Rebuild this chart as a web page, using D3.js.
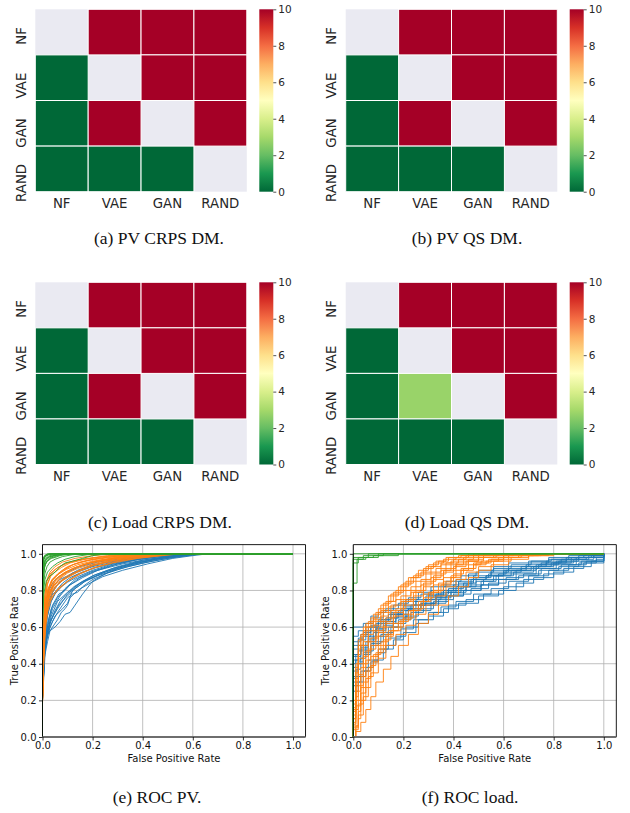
<!DOCTYPE html>
<html>
<head>
<meta charset="utf-8">
<script src="https://cdn.jsdelivr.net/npm/d3@7"></script>
<style>
  body { margin: 0; background: #fff; }
  svg { display: block; }
</style>
</head>
<body>
<div id="graph"></div>
<script>

// heatmap categories and values (diagonal = null, not tested)
var cats = ["NF", "VAE", "GAN", "RAND"];
var pvCrps   = [[null, 10, 10, 10], [0, null, 10, 10], [0, 10, null, 10], [0, 0, 0, null]];
var pvQs     = [[null, 10, 10, 10], [0, null, 10, 10], [0, 10, null, 10], [0, 0, 0, null]];
var loadCrps = [[null, 10, 10, 10], [0, null, 10, 10], [0, 10, null, 10], [0, 0, 0, null]];
var loadQs   = [[null, 10, 10, 10], [0, null, 10, 10], [0, 2.8, null, 10], [0, 0, 0, null]];
var cbTicks = [0, 2, 4, 6, 8, 10];
var rocTicks = [0, 0.2, 0.4, 0.6, 0.8, 1.0];

// ROC PV curves [fpr, tpr]
var pvBlue = [
  [[0,0],[0,0.2],[0.005,0.42],[0.015,0.55],[0.03,0.63],[0.06,0.7],[0.1,0.78],[0.15,0.84],[0.2,0.88],[0.3,0.93],[0.4,0.965],[0.5,0.985],[0.6,0.997],[0.64,1],[1,1]],
  [[0,0],[0,0.25],[0.008,0.5],[0.02,0.6],[0.04,0.7],[0.07,0.77],[0.1,0.82],[0.15,0.87],[0.2,0.9],[0.3,0.945],[0.4,0.975],[0.5,0.99],[0.58,1],[1,1]],
  [[0,0],[0,0.2],[0.01,0.45],[0.02,0.52],[0.03,0.58],[0.05,0.6],[0.07,0.63],[0.09,0.67],[0.11,0.68],[0.13,0.72],[0.16,0.78],[0.2,0.85],[0.25,0.89],[0.3,0.92],[0.4,0.955],[0.5,0.98],[0.6,0.995],[0.65,1],[1,1]],
  [[0,0],[0,0.3],[0.006,0.55],[0.015,0.68],[0.03,0.76],[0.05,0.82],[0.08,0.86],[0.12,0.89],[0.2,0.93],[0.3,0.96],[0.4,0.985],[0.5,1],[1,1]],
  [[0,0],[0,0.22],[0.008,0.47],[0.02,0.58],[0.035,0.66],[0.06,0.74],[0.1,0.79],[0.14,0.83],[0.18,0.86],[0.25,0.9],[0.35,0.94],[0.45,0.97],[0.55,0.99],[0.62,1],[1,1]],
  [[0,0],[0,0.28],[0.01,0.6],[0.02,0.7],[0.04,0.78],[0.06,0.8],[0.09,0.84],[0.13,0.88],[0.2,0.92],[0.28,0.95],[0.38,0.975],[0.48,0.99],[0.55,1],[1,1]],
  [[0,0],[0,0.2],[0.007,0.44],[0.018,0.54],[0.03,0.6],[0.05,0.66],[0.08,0.7],[0.1,0.73],[0.12,0.8],[0.17,0.85],[0.22,0.88],[0.3,0.915],[0.4,0.95],[0.5,0.975],[0.6,0.993],[0.63,1],[1,1]],
  [[0,0],[0,0.35],[0.005,0.6],[0.012,0.72],[0.025,0.8],[0.045,0.85],[0.07,0.88],[0.1,0.9],[0.15,0.93],[0.22,0.955],[0.3,0.97],[0.4,0.99],[0.47,1],[1,1]],
  [[0,0],[0,0.24],[0.01,0.52],[0.025,0.64],[0.04,0.72],[0.065,0.78],[0.09,0.8],[0.11,0.83],[0.16,0.87],[0.22,0.91],[0.32,0.945],[0.42,0.97],[0.52,0.99],[0.6,1],[1,1]],
  [[0,0],[0,0.26],[0.008,0.5],[0.02,0.62],[0.035,0.7],[0.06,0.76],[0.09,0.81],[0.13,0.86],[0.19,0.9],[0.27,0.935],[0.37,0.965],[0.47,0.985],[0.57,0.997],[0.61,1],[1,1]],
  [[0,0],[0,0.2],[0.006,0.4],[0.012,0.5],[0.02,0.56],[0.03,0.62],[0.045,0.67],[0.065,0.72],[0.085,0.75],[0.1,0.77],[0.13,0.81],[0.17,0.85],[0.23,0.89],[0.3,0.925],[0.38,0.955],[0.48,0.98],[0.58,0.995],[0.62,1],[1,1]],
  [[0,0],[0,0.32],[0.007,0.58],[0.015,0.66],[0.025,0.73],[0.04,0.79],[0.06,0.83],[0.085,0.86],[0.12,0.895],[0.17,0.92],[0.24,0.95],[0.33,0.97],[0.43,0.99],[0.52,1],[1,1]],
  [[0,0],[0,0.22],[0.01,0.48],[0.02,0.56],[0.04,0.6],[0.06,0.64],[0.075,0.68],[0.09,0.7],[0.1,0.72],[0.11,0.76],[0.14,0.8],[0.19,0.84],[0.24,0.875],[0.32,0.91],[0.42,0.945],[0.52,0.975],[0.6,0.99],[0.66,1],[1,1]],
  [[0,0],[0,0.27],[0.008,0.52],[0.018,0.65],[0.03,0.73],[0.05,0.78],[0.075,0.82],[0.1,0.845],[0.14,0.875],[0.2,0.91],[0.27,0.94],[0.36,0.965],[0.46,0.985],[0.55,0.997],[0.58,1],[1,1]],
  [[0,0],[0,0.23],[0.009,0.46],[0.02,0.57],[0.035,0.64],[0.05,0.69],[0.07,0.74],[0.095,0.78],[0.125,0.82],[0.16,0.85],[0.21,0.885],[0.28,0.92],[0.37,0.95],[0.47,0.975],[0.57,0.993],[0.63,1],[1,1]],
  [[0,0],[0,0.3],[0.006,0.56],[0.014,0.7],[0.028,0.78],[0.045,0.83],[0.07,0.86],[0.1,0.88],[0.14,0.91],[0.2,0.94],[0.28,0.96],[0.37,0.98],[0.45,0.995],[0.5,1],[1,1]],
  [[0,0],[0,0.21],[0.008,0.44],[0.016,0.53],[0.028,0.59],[0.04,0.63],[0.06,0.68],[0.08,0.72],[0.1,0.76],[0.12,0.78],[0.14,0.79],[0.16,0.82],[0.2,0.86],[0.26,0.895],[0.34,0.93],[0.44,0.96],[0.54,0.985],[0.62,0.997],[0.65,1],[1,1]],
  [[0,0],[0,0.25],[0.01,0.55],[0.02,0.66],[0.035,0.74],[0.055,0.8],[0.08,0.84],[0.11,0.87],[0.15,0.895],[0.21,0.925],[0.29,0.95],[0.39,0.975],[0.49,0.99],[0.56,1],[1,1]]
];
var pvOrange = [
  [[0,0],[0,0.18],[0.003,0.4],[0.008,0.62],[0.015,0.75],[0.03,0.82],[0.05,0.86],[0.08,0.89],[0.12,0.92],[0.2,0.955],[0.3,0.975],[0.4,0.99],[0.5,1],[1,1]],
  [[0,0],[0,0.2],[0.004,0.5],[0.01,0.7],[0.02,0.8],[0.04,0.86],[0.07,0.9],[0.1,0.93],[0.15,0.955],[0.22,0.975],[0.32,0.99],[0.42,1],[1,1]],
  [[0,0],[0,0.2],[0.005,0.45],[0.01,0.6],[0.02,0.7],[0.035,0.76],[0.06,0.8],[0.1,0.85],[0.15,0.89],[0.2,0.92],[0.28,0.95],[0.38,0.975],[0.48,0.99],[0.55,1],[1,1]],
  [[0,0],[0,0.25],[0.004,0.55],[0.01,0.74],[0.02,0.84],[0.035,0.89],[0.06,0.925],[0.1,0.95],[0.16,0.97],[0.25,0.985],[0.35,0.996],[0.4,1],[1,1]],
  [[0,0],[0,0.19],[0.005,0.48],[0.012,0.66],[0.025,0.78],[0.04,0.83],[0.06,0.87],[0.09,0.9],[0.14,0.93],[0.2,0.955],[0.3,0.98],[0.4,0.995],[0.46,1],[1,1]],
  [[0,0],[0,0.22],[0.006,0.52],[0.015,0.72],[0.03,0.8],[0.045,0.83],[0.07,0.85],[0.1,0.88],[0.13,0.9],[0.18,0.93],[0.26,0.96],[0.36,0.98],[0.46,0.995],[0.52,1],[1,1]],
  [[0,0],[0,0.3],[0.004,0.6],[0.009,0.78],[0.018,0.86],[0.03,0.9],[0.05,0.93],[0.08,0.955],[0.13,0.975],[0.2,0.99],[0.3,1],[1,1]],
  [[0,0],[0,0.2],[0.005,0.46],[0.012,0.64],[0.022,0.74],[0.04,0.81],[0.065,0.86],[0.095,0.9],[0.13,0.925],[0.19,0.95],[0.27,0.97],[0.37,0.987],[0.47,0.997],[0.5,1],[1,1]],
  [[0,0],[0,0.24],[0.004,0.5],[0.01,0.68],[0.02,0.78],[0.035,0.85],[0.055,0.88],[0.085,0.91],[0.12,0.94],[0.18,0.965],[0.26,0.982],[0.36,0.995],[0.44,1],[1,1]],
  [[0,0],[0,0.21],[0.006,0.5],[0.014,0.69],[0.028,0.79],[0.05,0.85],[0.075,0.88],[0.11,0.91],[0.16,0.94],[0.23,0.965],[0.33,0.985],[0.43,0.997],[0.48,1],[1,1]],
  [[0,0],[0,0.2],[0.004,0.44],[0.009,0.6],[0.018,0.72],[0.03,0.78],[0.05,0.82],[0.075,0.85],[0.1,0.87],[0.14,0.9],[0.2,0.935],[0.28,0.96],[0.38,0.98],[0.48,0.995],[0.53,1],[1,1]],
  [[0,0],[0,0.27],[0.004,0.58],[0.009,0.76],[0.017,0.85],[0.03,0.89],[0.05,0.915],[0.08,0.94],[0.12,0.96],[0.18,0.975],[0.26,0.99],[0.34,1],[1,1]],
  [[0,0],[0,0.19],[0.005,0.42],[0.011,0.58],[0.02,0.68],[0.032,0.74],[0.05,0.79],[0.07,0.82],[0.09,0.84],[0.12,0.87],[0.16,0.9],[0.22,0.93],[0.3,0.96],[0.4,0.98],[0.5,0.995],[0.54,1],[1,1]],
  [[0,0],[0,0.23],[0.005,0.53],[0.011,0.71],[0.022,0.81],[0.038,0.86],[0.06,0.89],[0.09,0.92],[0.13,0.945],[0.19,0.965],[0.27,0.98],[0.37,0.993],[0.43,1],[1,1]],
  [[0,0],[0,0.2],[0.006,0.47],[0.013,0.63],[0.024,0.73],[0.04,0.79],[0.06,0.83],[0.085,0.86],[0.11,0.88],[0.15,0.91],[0.21,0.94],[0.29,0.965],[0.39,0.985],[0.49,0.997],[0.52,1],[1,1]],
  [[0,0],[0,0.28],[0.004,0.56],[0.01,0.73],[0.019,0.83],[0.032,0.875],[0.05,0.9],[0.075,0.925],[0.11,0.95],[0.17,0.97],[0.24,0.985],[0.33,0.996],[0.38,1],[1,1]],
  [[0,0],[0,0.21],[0.005,0.49],[0.012,0.67],[0.025,0.77],[0.045,0.83],[0.07,0.865],[0.1,0.895],[0.14,0.92],[0.2,0.945],[0.28,0.97],[0.38,0.988],[0.47,1],[1,1]],
  [[0,0],[0,0.24],[0.005,0.52],[0.012,0.7],[0.023,0.8],[0.04,0.855],[0.065,0.89],[0.095,0.915],[0.14,0.94],[0.2,0.96],[0.29,0.98],[0.39,0.994],[0.45,1],[1,1]]
];
var pvGreen = [
  [[0,0],[0,0.6],[0.002,0.85],[0.005,0.93],[0.01,0.96],[0.02,0.98],[0.04,0.99],[0.08,0.997],[0.12,1],[1,1]],
  [[0,0],[0,0.7],[0.003,0.9],[0.008,0.95],[0.015,0.97],[0.03,0.985],[0.06,0.995],[0.1,1],[1,1]],
  [[0,0],[0,0.65],[0.004,0.8],[0.01,0.86],[0.02,0.9],[0.04,0.93],[0.06,0.95],[0.09,0.97],[0.13,0.985],[0.18,0.995],[0.22,1],[1,1]],
  [[0,0],[0,0.8],[0.002,0.93],[0.006,0.97],[0.012,0.985],[0.025,0.995],[0.05,1],[1,1]],
  [[0,0],[0,0.75],[0.003,0.88],[0.01,0.94],[0.02,0.96],[0.035,0.975],[0.05,0.98],[0.07,0.99],[0.1,0.997],[0.15,1],[1,1]],
  [[0,0],[0,0.85],[0.002,0.95],[0.005,0.98],[0.012,0.99],[0.03,1],[1,1]],
  [[0,0],[0,0.6],[0.005,0.78],[0.015,0.85],[0.03,0.88],[0.05,0.9],[0.07,0.93],[0.09,0.95],[0.12,0.96],[0.16,0.975],[0.2,0.99],[0.25,1],[1,1]],
  [[0,0],[0,0.9],[0.003,0.97],[0.008,0.99],[0.02,1],[1,1]],
  [[0,0],[0,0.7],[0.003,0.86],[0.007,0.92],[0.015,0.955],[0.03,0.975],[0.06,0.99],[0.09,1],[1,1]],
  [[0,0],[0,0.78],[0.002,0.91],[0.006,0.955],[0.013,0.975],[0.025,0.988],[0.045,0.996],[0.07,1],[1,1]],
  [[0,0],[0,0.66],[0.004,0.82],[0.009,0.89],[0.018,0.93],[0.03,0.955],[0.05,0.97],[0.08,0.985],[0.12,0.995],[0.16,1],[1,1]],
  [[0,0],[0,0.83],[0.002,0.94],[0.005,0.97],[0.01,0.985],[0.02,0.995],[0.04,1],[1,1]],
  [[0,0],[0,0.72],[0.003,0.87],[0.008,0.93],[0.016,0.96],[0.03,0.98],[0.05,0.99],[0.08,0.997],[0.11,1],[1,1]],
  [[0,0],[0,0.88],[0.002,0.96],[0.006,0.985],[0.015,0.995],[0.025,1],[1,1]]
];

// ROC load curves [fpr, tpr], drawn as steps
var loadBlue = [
  [[0,0],[0,0.6],[0.04,0.62],[0.07,0.66],[0.1,0.68],[0.13,0.7],[0.18,0.73],[0.22,0.76],[0.27,0.78],[0.31,0.8],[0.36,0.83],[0.41,0.86],[0.46,0.89],[0.5,0.91],[0.56,0.93],[0.62,0.95],[0.7,0.96],[0.78,0.98],[0.86,0.99],[0.93,1],[1,1]],
  [[0,0],[0,0.45],[0.02,0.5],[0.04,0.55],[0.07,0.6],[0.11,0.64],[0.15,0.67],[0.2,0.71],[0.24,0.74],[0.29,0.77],[0.34,0.8],[0.4,0.83],[0.46,0.86],[0.53,0.88],[0.6,0.9],[0.67,0.92],[0.74,0.94],[0.82,0.96],[0.9,0.98],[1,1]],
  [[0,0],[0,0.28],[0.02,0.33],[0.05,0.38],[0.08,0.42],[0.12,0.48],[0.16,0.53],[0.2,0.57],[0.25,0.62],[0.3,0.66],[0.36,0.7],[0.42,0.73],[0.5,0.77],[0.58,0.8],[0.65,0.84],[0.72,0.87],[0.8,0.9],[0.88,0.93],[0.95,0.96],[1,1]],
  [[0,0],[0,0.38],[0.01,0.42],[0.03,0.48],[0.06,0.53],[0.09,0.58],[0.13,0.62],[0.17,0.66],[0.22,0.7],[0.27,0.73],[0.33,0.76],[0.39,0.79],[0.45,0.82],[0.51,0.85],[0.57,0.88],[0.64,0.9],[0.72,0.93],[0.8,0.95],[0.88,0.97],[0.96,0.99],[1,1]],
  [[0,0],[0,0.52],[0.03,0.56],[0.06,0.6],[0.1,0.63],[0.14,0.67],[0.19,0.7],[0.24,0.72],[0.28,0.75],[0.33,0.78],[0.38,0.81],[0.44,0.84],[0.49,0.87],[0.55,0.9],[0.62,0.92],[0.69,0.94],[0.77,0.96],[0.85,0.98],[0.92,0.99],[1,1]],
  [[0,0],[0,0.33],[0.02,0.4],[0.04,0.45],[0.07,0.5],[0.1,0.55],[0.14,0.6],[0.18,0.64],[0.23,0.68],[0.28,0.72],[0.34,0.75],[0.4,0.78],[0.47,0.81],[0.54,0.84],[0.61,0.87],[0.68,0.89],[0.75,0.92],[0.83,0.94],[0.91,0.96],[1,0.98],[1,1]],
  [[0,0],[0,0.42],[0.02,0.47],[0.05,0.52],[0.08,0.57],[0.12,0.61],[0.16,0.65],[0.21,0.69],[0.26,0.72],[0.31,0.76],[0.37,0.79],[0.43,0.82],[0.49,0.85],[0.56,0.88],[0.63,0.91],[0.71,0.93],[0.79,0.95],[0.87,0.97],[0.94,0.98],[1,1]],
  [[0,0],[0,0.3],[0.03,0.36],[0.06,0.42],[0.1,0.48],[0.14,0.54],[0.19,0.59],[0.24,0.64],[0.3,0.68],[0.35,0.71],[0.41,0.74],[0.48,0.78],[0.55,0.81],[0.62,0.85],[0.7,0.88],[0.78,0.91],[0.86,0.94],[0.93,0.96],[1,0.97],[1,1]],
  [[0,0],[0,0.48],[0.02,0.53],[0.05,0.58],[0.09,0.62],[0.13,0.65],[0.18,0.69],[0.23,0.72],[0.29,0.75],[0.35,0.79],[0.41,0.82],[0.47,0.86],[0.53,0.88],[0.6,0.91],[0.67,0.93],[0.75,0.95],[0.83,0.97],[0.9,0.99],[1,1]],
  [[0,0],[0,0.36],[0.02,0.41],[0.04,0.46],[0.07,0.51],[0.11,0.56],[0.15,0.6],[0.2,0.65],[0.25,0.69],[0.31,0.73],[0.37,0.77],[0.44,0.8],[0.51,0.83],[0.58,0.86],[0.65,0.89],[0.73,0.92],[0.81,0.94],[0.89,0.96],[0.97,0.98],[1,1]],
  [[0,0],[0,0.55],[0.02,0.58],[0.05,0.62],[0.08,0.65],[0.12,0.69],[0.16,0.72],[0.21,0.75],[0.26,0.79],[0.31,0.82],[0.37,0.85],[0.43,0.88],[0.49,0.9],[0.56,0.92],[0.63,0.94],[0.71,0.96],[0.79,0.97],[0.87,0.98],[0.95,0.99],[1,1]],
  [[0,0],[0,0.25],[0.02,0.3],[0.04,0.36],[0.07,0.41],[0.1,0.46],[0.13,0.5],[0.17,0.55],[0.21,0.6],[0.26,0.64],[0.32,0.68],[0.38,0.72],[0.45,0.75],[0.52,0.78],[0.6,0.82],[0.68,0.86],[0.76,0.89],[0.84,0.92],[0.92,0.95],[1,0.97],[1,1]],
  [[0,0],[0,0.4],[0.01,0.45],[0.03,0.5],[0.06,0.55],[0.09,0.59],[0.12,0.63],[0.16,0.67],[0.2,0.7],[0.25,0.74],[0.3,0.77],[0.36,0.8],[0.42,0.84],[0.48,0.87],[0.54,0.89],[0.61,0.91],[0.69,0.93],[0.77,0.95],[0.85,0.97],[0.93,0.98],[1,1]],
  [[0,0],[0,0.5],[0.02,0.54],[0.04,0.57],[0.07,0.61],[0.1,0.64],[0.15,0.68],[0.2,0.72],[0.25,0.75],[0.3,0.78],[0.36,0.82],[0.42,0.85],[0.48,0.88],[0.55,0.91],[0.62,0.93],[0.7,0.95],[0.78,0.97],[0.86,0.98],[0.94,0.99],[1,1]],
  [[0,0],[0,0.32],[0.01,0.37],[0.03,0.43],[0.05,0.47],[0.08,0.52],[0.12,0.57],[0.16,0.62],[0.21,0.66],[0.26,0.7],[0.32,0.74],[0.38,0.77],[0.44,0.8],[0.51,0.83],[0.58,0.86],[0.66,0.88],[0.74,0.91],[0.82,0.93],[0.9,0.95],[0.97,0.97],[1,1]],
  [[0,0],[0,0.44],[0.03,0.49],[0.06,0.54],[0.09,0.59],[0.13,0.63],[0.17,0.67],[0.22,0.7],[0.27,0.73],[0.33,0.77],[0.39,0.8],[0.45,0.83],[0.52,0.86],[0.58,0.89],[0.65,0.91],[0.73,0.94],[0.81,0.96],[0.89,0.98],[0.96,0.99],[1,1]]
];
var loadOrange = [
  [[0,0],[0,0.1],[0.01,0.3],[0.02,0.45],[0.03,0.55],[0.05,0.62],[0.08,0.67],[0.11,0.72],[0.14,0.77],[0.18,0.82],[0.22,0.87],[0.26,0.91],[0.3,0.94],[0.34,0.96],[0.38,0.98],[0.42,0.99],[0.48,1],[1,1]],
  [[0,0],[0,0.05],[0.01,0.15],[0.02,0.28],[0.04,0.4],[0.06,0.48],[0.09,0.55],[0.12,0.6],[0.16,0.66],[0.2,0.72],[0.24,0.77],[0.28,0.82],[0.32,0.86],[0.36,0.9],[0.4,0.93],[0.45,0.96],[0.5,0.98],[0.57,0.99],[0.64,1],[1,1]],
  [[0,0],[0.01,0.03],[0.03,0.08],[0.05,0.15],[0.07,0.22],[0.09,0.3],[0.12,0.37],[0.15,0.44],[0.18,0.5],[0.22,0.56],[0.26,0.62],[0.3,0.67],[0.34,0.72],[0.38,0.77],[0.42,0.82],[0.46,0.87],[0.5,0.91],[0.55,0.94],[0.62,0.97],[0.7,0.99],[0.8,1],[1,1]],
  [[0,0],[0,0.12],[0.01,0.25],[0.03,0.38],[0.05,0.47],[0.07,0.54],[0.1,0.6],[0.13,0.65],[0.17,0.7],[0.21,0.75],[0.25,0.8],[0.29,0.85],[0.33,0.89],[0.37,0.92],[0.41,0.95],[0.46,0.97],[0.52,0.99],[0.58,1],[1,1]],
  [[0,0],[0,0.06],[0.02,0.18],[0.04,0.3],[0.06,0.38],[0.08,0.45],[0.11,0.52],[0.14,0.58],[0.18,0.63],[0.22,0.69],[0.26,0.74],[0.3,0.79],[0.34,0.84],[0.39,0.88],[0.43,0.92],[0.48,0.95],[0.54,0.97],[0.6,0.99],[0.68,1],[1,1]],
  [[0,0],[0,0.15],[0.01,0.35],[0.02,0.5],[0.04,0.58],[0.06,0.63],[0.09,0.68],[0.12,0.73],[0.15,0.78],[0.19,0.83],[0.23,0.87],[0.27,0.9],[0.31,0.93],[0.35,0.95],[0.4,0.97],[0.45,0.99],[0.52,1],[1,1]],
  [[0,0],[0.01,0.05],[0.02,0.12],[0.04,0.22],[0.06,0.33],[0.08,0.41],[0.1,0.48],[0.13,0.55],[0.16,0.6],[0.2,0.65],[0.24,0.7],[0.28,0.76],[0.32,0.8],[0.36,0.85],[0.4,0.89],[0.44,0.92],[0.49,0.95],[0.55,0.97],[0.62,0.99],[0.72,1],[1,1]],
  [[0,0],[0,0.08],[0.01,0.2],[0.03,0.33],[0.05,0.42],[0.07,0.5],[0.1,0.57],[0.13,0.62],[0.16,0.68],[0.2,0.74],[0.24,0.79],[0.28,0.84],[0.32,0.88],[0.36,0.91],[0.41,0.94],[0.46,0.96],[0.52,0.98],[0.6,1],[1,1]],
  [[0,0],[0,0.18],[0.01,0.4],[0.02,0.53],[0.04,0.6],[0.07,0.65],[0.1,0.7],[0.13,0.74],[0.16,0.79],[0.2,0.84],[0.24,0.88],[0.28,0.92],[0.32,0.95],[0.36,0.97],[0.41,0.98],[0.46,1],[1,1]],
  [[0,0],[0,0.04],[0.02,0.1],[0.03,0.2],[0.05,0.27],[0.07,0.35],[0.1,0.43],[0.13,0.5],[0.17,0.56],[0.21,0.61],[0.25,0.67],[0.29,0.72],[0.33,0.77],[0.37,0.82],[0.41,0.86],[0.45,0.9],[0.5,0.93],[0.56,0.96],[0.63,0.98],[0.7,0.99],[0.78,1],[1,1]],
  [[0,0],[0,0.14],[0.01,0.28],[0.02,0.4],[0.04,0.5],[0.06,0.56],[0.08,0.61],[0.11,0.66],[0.14,0.71],[0.17,0.75],[0.21,0.8],[0.25,0.85],[0.29,0.89],[0.33,0.92],[0.37,0.95],[0.42,0.97],[0.48,0.99],[0.55,1],[1,1]],
  [[0,0],[0.01,0.06],[0.02,0.14],[0.03,0.24],[0.05,0.32],[0.07,0.39],[0.09,0.46],[0.12,0.53],[0.15,0.58],[0.19,0.64],[0.23,0.69],[0.27,0.74],[0.31,0.79],[0.35,0.83],[0.39,0.87],[0.43,0.91],[0.48,0.94],[0.53,0.96],[0.6,0.98],[0.67,0.99],[0.75,1],[1,1]],
  [[0,0],[0,0.2],[0.01,0.38],[0.02,0.48],[0.03,0.56],[0.05,0.6],[0.08,0.64],[0.11,0.69],[0.14,0.74],[0.17,0.8],[0.21,0.85],[0.25,0.89],[0.29,0.93],[0.33,0.96],[0.37,0.98],[0.43,0.99],[0.5,1],[1,1]],
  [[0,0],[0,0.07],[0.01,0.17],[0.03,0.27],[0.05,0.36],[0.07,0.44],[0.1,0.5],[0.13,0.56],[0.16,0.62],[0.2,0.67],[0.24,0.72],[0.28,0.78],[0.32,0.83],[0.36,0.87],[0.41,0.91],[0.46,0.94],[0.51,0.96],[0.58,0.98],[0.66,0.99],[0.74,1],[1,1]],
  [[0,0],[0,0.1],[0.01,0.22],[0.02,0.34],[0.04,0.44],[0.06,0.52],[0.09,0.58],[0.12,0.63],[0.15,0.69],[0.19,0.74],[0.23,0.79],[0.27,0.83],[0.31,0.87],[0.35,0.91],[0.39,0.94],[0.44,0.96],[0.5,0.98],[0.56,0.99],[0.62,1],[1,1]],
  [[0,0],[0,0.16],[0.01,0.32],[0.02,0.43],[0.04,0.52],[0.06,0.58],[0.09,0.63],[0.12,0.68],[0.15,0.72],[0.19,0.77],[0.23,0.82],[0.27,0.86],[0.31,0.9],[0.35,0.94],[0.39,0.96],[0.44,0.98],[0.5,0.99],[0.58,1],[1,1]]
];
var loadGreen = [
  [[0,0],[0,0.84],[0.015,0.97],[0.05,0.98],[0.1,1],[1,1]],
  [[0,0],[0,0.97],[0.04,0.99],[0.18,1],[1,1]],
  [[0,0],[0,0.95],[0.02,0.98],[0.08,0.99],[0.12,1],[1,1]],
  [[0,0],[0,0.98],[0.06,1],[1,1]],
  [[0,0],[0,1],[1,1]]
];

var W = 630, H = 813;
var svg = d3.select("#graph")
  .append("svg")
    .attr("width", W)
    .attr("height", H);

var font = "DejaVu Sans, Verdana, sans-serif";
var heatText = "#262626";

// RdYlGn_r like matplotlib, linear between the 11 stops
var stops = d3.schemeRdYlGn[11].slice().reverse();
var color = d3.scaleLinear()
  .domain(d3.range(0, 11))
  .range(stops);

var grad = svg.append("defs").append("linearGradient")
  .attr("id", "cbar")
  .attr("x1", 0).attr("y1", 1).attr("x2", 0).attr("y2", 0);
grad.selectAll("stop")
  .data(d3.range(0, 11))
  .enter().append("stop")
    .attr("offset", function(d) { return d / 10; })
    .attr("stop-color", function(d) { return color(d); });

function heatmap(vals, p) {
  var g = svg.append("g");
  var x = d3.scaleBand().domain(cats).range([p.x0, p.x1]);
  var y = d3.scaleBand().domain(cats).range([p.y0, p.y1]);

  g.append("rect")
    .attr("x", p.x0).attr("y", p.y0)
    .attr("width", p.x1 - p.x0).attr("height", p.y1 - p.y0)
    .attr("fill", "#eaeaf2");

  var cells = [];
  vals.forEach(function(row, i) {
    row.forEach(function(v, j) {
      if (v !== null) cells.push({r: cats[i], c: cats[j], v: v});
    });
  });
  g.selectAll(".cell")
    .data(cells)
    .enter().append("rect")
      .attr("x", function(d) { return x(d.c); })
      .attr("y", function(d) { return y(d.r); })
      .attr("width", x.bandwidth())
      .attr("height", y.bandwidth())
      .attr("fill", function(d) { return color(d.v); })
      .attr("stroke", "#fff")
      .attr("stroke-width", 1);

  // tick labels
  g.selectAll(".xl")
    .data(cats)
    .enter().append("text")
      .attr("x", function(d) { return x(d) + x.bandwidth() / 2; })
      .attr("y", p.y1 + 16.5)
      .attr("text-anchor", "middle")
      .style("font-family", font).style("font-size", "13.3px")
      .attr("fill", heatText)
      .text(function(d) { return d; });
  g.selectAll(".yl")
    .data(cats)
    .enter().append("text")
      .attr("transform", function(d) {
        return "translate(" + (p.x0 - 9.5) + "," + (y(d) + y.bandwidth() / 2 - 5) + ") rotate(-90)";
      })
      .attr("text-anchor", "end")
      .style("font-family", font).style("font-size", "13.3px")
      .attr("fill", heatText)
      .text(function(d) { return d; });

  // colour bar
  var cy = d3.scaleLinear().domain([0, 10]).range([p.y1, p.y0]);
  g.append("rect")
    .attr("x", p.cb).attr("y", p.y0)
    .attr("width", 14).attr("height", p.y1 - p.y0)
    .attr("fill", "url(#cbar)");
  var ax = g.append("g")
    .attr("transform", "translate(" + (p.cb + 14) + ",0)")
    .call(d3.axisRight(cy).tickValues(cbTicks).tickSize(3).tickPadding(2));
  ax.select(".domain").remove();
  ax.selectAll("line").attr("stroke", heatText).attr("stroke-width", 0.8);
  ax.selectAll("text")
    .style("font-family", font).style("font-size", "10.5px")
    .attr("fill", heatText);
}

heatmap(pvCrps,   {x0: 35.3,  x1: 246.8, y0: 9.3,   y1: 191.7, cb: 259.3});
heatmap(pvQs,     {x0: 345.7, x1: 557.3, y0: 9.3,   y1: 191.7, cb: 569.7});
heatmap(loadCrps, {x0: 35.3,  x1: 246.8, y0: 282.3, y1: 464.5, cb: 259.3});
heatmap(loadQs,   {x0: 345.7, x1: 557.3, y0: 282.3, y1: 464.5, cb: 569.7});

var tab = {blue: "#1f77b4", orange: "#ff7f0e", green: "#2ca02c"};

function roc(series, p, curve) {
  var g = svg.append("g");
  var x = d3.scaleLinear().domain([0, 1.05]).range([p.x0, p.x0 + 1.05 * 250.5]);
  var y = d3.scaleLinear().domain([0, 1.05]).range([737, 737 - 1.05 * 183.2]);

  // grid
  g.selectAll(".gx").data(rocTicks).enter().append("line")
    .attr("x1", function(d) { return x(d); }).attr("x2", function(d) { return x(d); })
    .attr("y1", y(0)).attr("y2", y(1.05))
    .attr("stroke", "#b0b0b0").attr("stroke-width", 0.8);
  g.selectAll(".gy").data(rocTicks).enter().append("line")
    .attr("y1", function(d) { return y(d); }).attr("y2", function(d) { return y(d); })
    .attr("x1", x(0)).attr("x2", x(1.05))
    .attr("stroke", "#b0b0b0").attr("stroke-width", 0.8);

  var line = d3.line()
    .x(function(d) { return x(d[0]); })
    .y(function(d) { return y(d[1]); })
    .curve(curve);

  series.forEach(function(s) {
    g.append("g").selectAll("path")
      .data(s.curves)
      .enter().append("path")
        .attr("d", line)
        .attr("fill", "none")
        .attr("stroke", s.color)
        .attr("stroke-width", 1)
        .attr("stroke-opacity", 0.9);
  });

  // spines
  g.append("line").attr("x1", x(0)).attr("x2", x(0)).attr("y1", y(0)).attr("y2", y(1.05))
    .attr("stroke", "#000").attr("stroke-width", 0.9);
  g.append("line").attr("x1", x(1.05)).attr("x2", x(1.05)).attr("y1", y(0)).attr("y2", y(1.05))
    .attr("stroke", "#000").attr("stroke-width", 0.9);
  g.append("line").attr("x1", x(0)).attr("x2", x(1.05)).attr("y1", y(1.05)).attr("y2", y(1.05))
    .attr("stroke", "#000").attr("stroke-width", 0.9);
  g.append("line").attr("x1", x(0)).attr("x2", x(1.05)).attr("y1", y(0)).attr("y2", y(0))
    .attr("stroke", "#6e6e6e").attr("stroke-width", 1.8);

  var fmt = d3.format(".1f");
  var ay = g.append("g")
    .attr("transform", "translate(" + x(0) + ",0)")
    .call(d3.axisLeft(y).tickValues(rocTicks).tickFormat(fmt).tickSize(3.5).tickPadding(2.5));
  var axx = g.append("g")
    .attr("transform", "translate(0," + y(0) + ")")
    .call(d3.axisBottom(x).tickValues(rocTicks).tickFormat(fmt).tickSize(3.5).tickPadding(1.5));
  [ay, axx].forEach(function(a) {
    a.select(".domain").remove();
    a.selectAll("line").attr("stroke", "#000").attr("stroke-width", 0.8);
    a.selectAll("text").style("font-family", font).style("font-size", "10px").attr("fill", "#111");
  });

  g.append("text")
    .attr("x", (x(0) + x(1.05)) / 2)
    .attr("y", 761.5)
    .attr("text-anchor", "middle")
    .style("font-family", font).style("font-size", "10px")
    .attr("fill", "#111")
    .text("False Positive Rate");
  g.append("text")
    .attr("transform", "translate(" + (p.x0 - 24.5) + "," + (y(0) + y(1.05)) / 2 + ") rotate(-90)")
    .attr("text-anchor", "middle")
    .style("font-family", font).style("font-size", "10px")
    .attr("fill", "#111")
    .text("True Positive Rate");
}

roc([{color: tab.blue, curves: pvBlue}, {color: tab.orange, curves: pvOrange}, {color: tab.green, curves: pvGreen}],
    {x0: 42.5}, d3.curveLinear);
roc([{color: tab.blue, curves: loadBlue}, {color: tab.orange, curves: loadOrange}, {color: tab.green, curves: loadGreen}],
    {x0: 353.3}, d3.curveStepAfter);

// sub-captions
var captions = [
  {t: "(a) PV CRPS DM.", x: 159, y: 244},
  {t: "(b) PV QS DM.", x: 467, y: 244},
  {t: "(c) Load CRPS DM.", x: 160, y: 528},
  {t: "(d) Load QS DM.", x: 467, y: 528},
  {t: "(e) ROC PV.", x: 157, y: 803},
  {t: "(f) ROC load.", x: 470, y: 803}
];
svg.selectAll(".cap")
  .data(captions)
  .enter().append("text")
    .attr("x", function(d) { return d.x; })
    .attr("y", function(d) { return d.y; })
    .attr("text-anchor", "middle")
    .style("font-family", "Liberation Serif, Times New Roman, serif")
    .style("font-size", "17.5px")
    .attr("fill", "#111")
    .text(function(d) { return d.t; });

</script>
</body>
</html>
